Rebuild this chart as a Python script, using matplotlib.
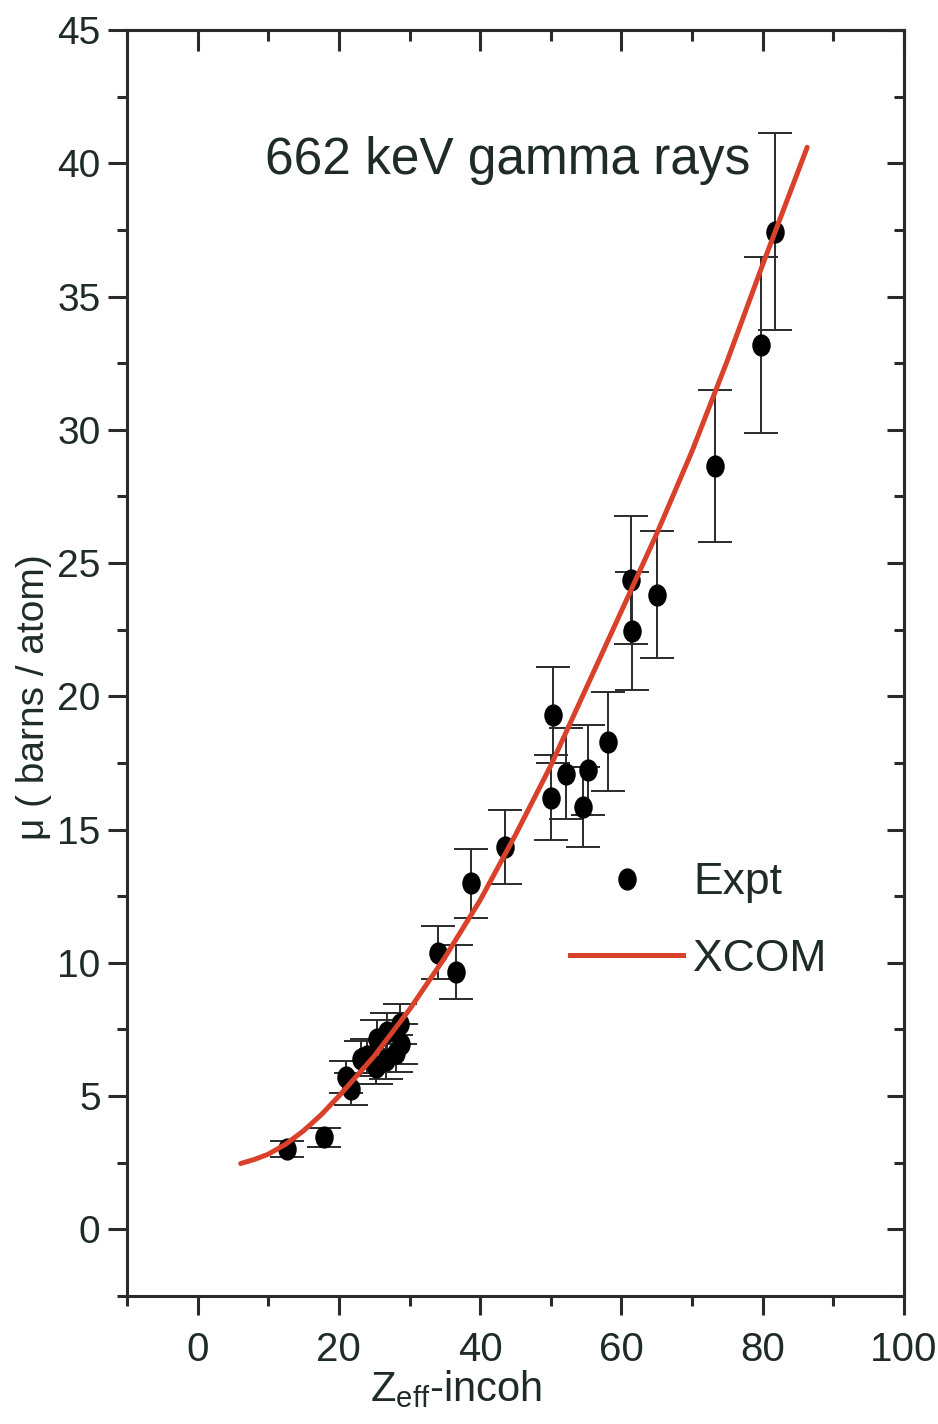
import matplotlib
matplotlib.use('Agg')
import matplotlib.pyplot as plt
import numpy as np
from matplotlib.path import Path
from matplotlib.lines import Line2D

# measured attenuation coefficients (barns/atom) vs effective Z
z_eff = [12.7, 17.9, 21.0, 21.7, 23.1, 24.0, 25.2, 25.4, 26.7, 26.8, 28.1, 28.6, 28.8,
         34.0, 36.6, 38.7, 43.5, 50.0, 50.3, 52.2, 54.5, 55.3, 58.1, 61.3, 61.5, 65.0,
         73.2, 79.7, 81.7]
mu_expt = [3.0, 3.45, 5.7, 5.25, 6.4, 6.5, 6.1, 7.15, 6.35, 7.4, 6.6, 7.7, 6.95,
           10.38, 9.66, 12.98, 14.35, 16.2, 19.3, 17.1, 15.86, 17.23, 18.3, 24.36, 22.45, 23.82,
           28.65, 33.18, 37.44]
mu_err = [0.3, 0.35, 0.6, 0.6, 0.65, 0.65, 0.65, 0.7, 0.7, 0.7, 0.7, 0.75, 0.75,
          1.0, 1.0, 1.3, 1.4, 1.6, 1.8, 1.7, 1.5, 1.7, 1.85, 2.4, 2.2, 2.4,
          2.85, 3.3, 3.7]

# XCOM theoretical curve
z_xcom = [6.1, 8, 10, 12.5, 15, 17.5, 20, 25, 30, 35, 40, 45, 50, 55, 60, 65, 70, 75, 80, 86.3]
mu_xcom = [2.47, 2.62, 2.82, 3.2, 3.7, 4.3, 5.0, 6.5, 8.25, 10.2, 12.35, 14.8, 17.4, 20.3,
           23.2, 26.1, 29.2, 32.6, 36.2, 40.6]

plt.rcParams['font.family'] = ['Liberation Sans', 'DejaVu Sans']
plt.rcParams['mathtext.fontset'] = 'custom'
plt.rcParams['mathtext.rm'] = 'Liberation Sans'
plt.rcParams['mathtext.it'] = 'Liberation Sans'

ink = '#1f2b28'
line_col = '#2a2a2a'
red = '#d9412b'

fig = plt.figure(figsize=(9.38, 14.24), dpi=100)
ax = fig.add_axes([0.1354, 0.0899, 0.9637 - 0.1354, 0.9789 - 0.0899])

# slightly oval dots
circ = Path.unit_circle()
oval = Path(circ.vertices * [0.82, 1.0], circ.codes)

ax.errorbar(z_eff, mu_expt, yerr=mu_err, fmt='none', ecolor=line_col, elinewidth=1.4,
            capsize=12, capthick=1.4, zorder=2)
ax.plot(z_eff, mu_expt, linestyle='none', marker=oval, markersize=15, color='black', zorder=3)
ax.plot(z_xcom, mu_xcom, color=red, lw=3.6, solid_capstyle='round', zorder=4)

ax.set_xlim(-10, 100)
ax.set_ylim(-2.5, 45)
ax.set_xticks(np.arange(0, 101, 20))
ax.set_xticks(np.arange(-10, 100, 20), minor=True)
ax.set_yticks(np.arange(0, 46, 5))
ax.set_yticks(np.arange(-2.5, 45, 5), minor=True)

for s in ax.spines.values():
    s.set_linewidth(2.2)
    s.set_color(line_col)

ax.tick_params(which='major', direction='out', length=14, width=2.2, color=line_col,
               labelsize=29, labelcolor=ink)
ax.tick_params(which='minor', direction='out', length=7.5, width=2.2, color=line_col)
ax.tick_params(axis='y', which='major', pad=5, labelsize=28)
ax.tick_params(axis='x', which='major', pad=11)

# inward ticks on the top and right frame
top = ax.secondary_xaxis('top')
top.set_xticks(np.arange(0, 101, 20))
top.set_xticks(np.arange(-10, 100, 20), minor=True)
top.tick_params(which='major', direction='in', length=15, width=2.2, color=line_col, labeltop=False)
top.tick_params(which='minor', direction='in', length=8, width=2.2, color=line_col)
right = ax.secondary_yaxis('right')
right.set_yticks(np.arange(0, 46, 5))
right.set_yticks(np.arange(-2.5, 45, 5), minor=True)
right.tick_params(which='major', direction='in', length=12, width=2.2, color=line_col, labelright=False)
right.tick_params(which='minor', direction='in', length=7, width=2.2, color=line_col)
for sec in (top, right):
    for s in sec.spines.values():
        s.set_linewidth(2.2)
        s.set_color(line_col)

ax.set_xlabel(r'$\mathrm{Z_{eff}}$-incoh', fontsize=30, color=ink)
ax.xaxis.set_label_coords(0.423, -0.057)
ax.set_ylabel('μ ( barns / atom)', fontsize=28, color=ink)
ax.yaxis.set_label_coords(-0.097, 0.473)

ax.text(0.49, 0.897, '662 keV gamma rays', transform=ax.transAxes, fontsize=37,
        color=ink, ha='center', va='center')

handles = [Line2D([], [], linestyle='none', marker=oval, markersize=15, color='black'),
           Line2D([], [], color=red, lw=3.6)]
ax.legend(handles, ['Expt', 'XCOM'], loc='center left', bbox_to_anchor=(0.570, 0.296),
          frameon=False, fontsize=32, handlelength=2.55, handletextpad=0.23,
          labelspacing=0.8, borderpad=0, borderaxespad=0, labelcolor=ink)

fig.savefig('out.png', dpi=100)
